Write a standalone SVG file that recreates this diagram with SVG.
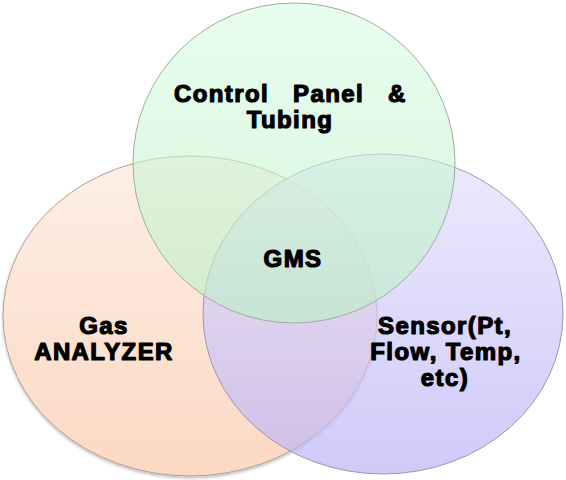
<svg xmlns="http://www.w3.org/2000/svg" width="566" height="480" viewBox="0 0 566 480">
  <defs>
    <linearGradient id="gOrange" x1="0" y1="0" x2="0" y2="1">
      <stop offset="0" stop-color="#fdefe7"/>
      <stop offset="1" stop-color="#fcd8c3"/>
    </linearGradient>
    <linearGradient id="gPurple" x1="0" y1="0" x2="0" y2="1">
      <stop offset="0" stop-color="#e4e1fc"/>
      <stop offset="1" stop-color="#bcb3f6"/>
    </linearGradient>
    <linearGradient id="gGreen" x1="0" y1="0" x2="0" y2="1">
      <stop offset="0" stop-color="#d9fce2"/>
      <stop offset="1" stop-color="#b9f0c4"/>
    </linearGradient>
    <filter id="sh" x="-10%" y="-10%" width="120%" height="125%">
      <feGaussianBlur in="SourceAlpha" stdDeviation="1.5"/>
      <feOffset dy="1.5"/>
      <feComponentTransfer><feFuncA type="linear" slope="0.25"/></feComponentTransfer>
      <feMerge><feMergeNode/><feMergeNode in="SourceGraphic"/></feMerge>
    </filter>
  </defs>
  <style>
    .lbl { font-family: "Liberation Sans", Arial, sans-serif; font-weight: bold; font-size: 24px; letter-spacing: 1.4px; fill: #000; stroke: #000; stroke-width: 1.2; stroke-linejoin: round; text-anchor: middle; }
  </style>
  <rect width="566" height="480" fill="#ffffff"/>
  <g id="gas-analyzer">
    <ellipse cx="190" cy="316" rx="187" ry="160" fill="url(#gOrange)" stroke="#b59e92" stroke-width="1" filter="url(#sh)"/>
  </g>
  <g id="sensor">
    <ellipse cx="383" cy="314" rx="180" ry="160" fill="url(#gPurple)" fill-opacity="0.7" stroke="#9996b5" stroke-width="1"/>
  </g>
  <g id="control-panel">
    <ellipse cx="294" cy="163" rx="161" ry="160" fill="url(#gGreen)" fill-opacity="0.6" stroke="#9fae9f" stroke-width="1"/>
  </g>
  <g id="connectors"></g>
  <g id="labels">
    <text class="lbl" style="text-anchor:start" y="102"><tspan x="174">Control</tspan><tspan x="293">Panel</tspan><tspan x="388">&amp;</tspan></text>
    <text class="lbl" x="290" y="128">Tubing</text>
    <text class="lbl" x="293" y="267">GMS</text>
    <text class="lbl" x="104" y="334">Gas</text>
    <text class="lbl" x="104" y="360">ANALYZER</text>
    <text class="lbl" x="445" y="334">Sensor(Pt,</text>
    <text class="lbl" x="446" y="360">Flow, Temp,</text>
    <text class="lbl" x="445" y="386">etc)</text>
  </g>
</svg>
